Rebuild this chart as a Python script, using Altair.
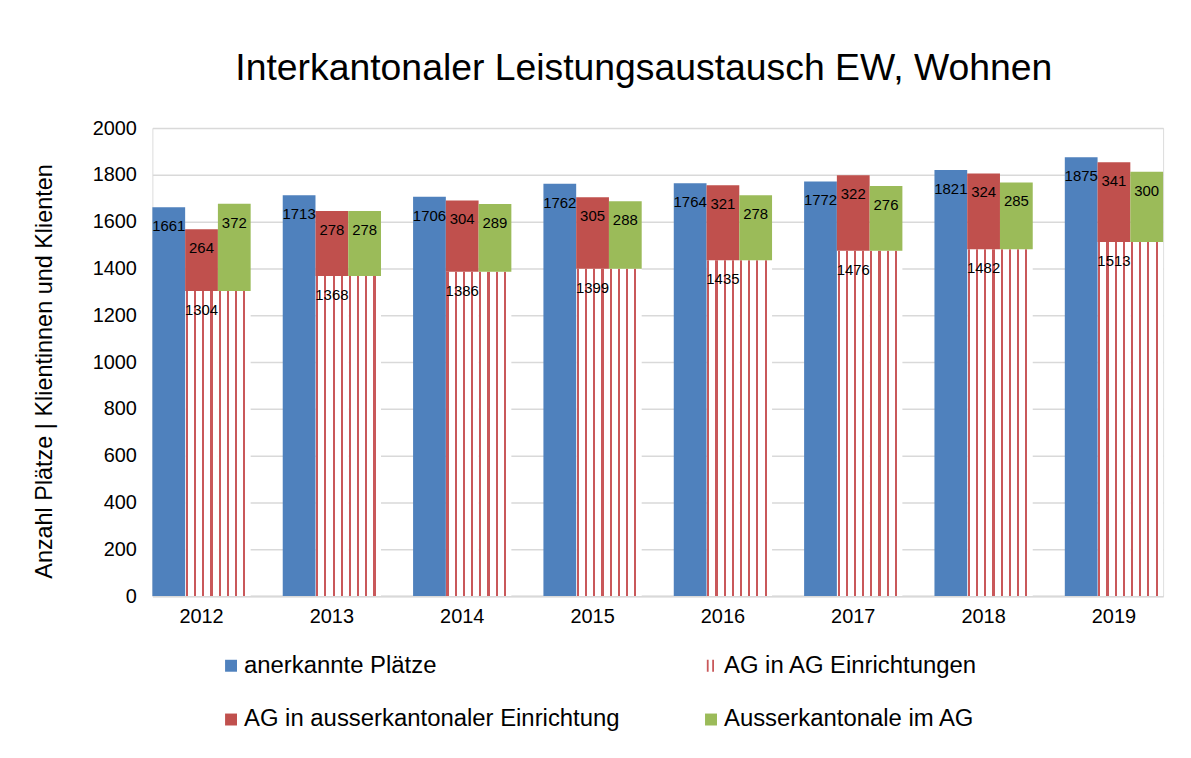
import altair as alt
import pandas as pd

# ---- data ----
years = ["2012", "2013", "2014", "2015", "2016", "2017", "2018", "2019"]
anerkannte_plaetze = [1661, 1713, 1706, 1762, 1764, 1772, 1821, 1875]
ag_in_ag = [1304, 1368, 1386, 1399, 1435, 1476, 1482, 1513]
ag_ausserkantonal = [264, 278, 304, 305, 321, 322, 324, 341]
ausserkantonale_im_ag = [372, 278, 289, 288, 278, 276, 285, 300]
y_ticks = [0, 200, 400, 600, 800, 1000, 1200, 1400, 1600, 1800, 2000]

S_BLUE = "anerkannte Plätze"
S_BASE = "AG in AG Einrichtungen"
S_RED = "AG in ausserkantonaler Einrichtung"
S_GREEN = "Ausserkantonale im AG"
# legend fills column by column
series_order = [S_BLUE, S_RED, S_BASE, S_GREEN]

BLUE = "#4F81BD"
RED = "#C0504D"
GREEN = "#9BBB59"
STRIPE = "#C9585A"
FONT = "Liberation Sans"

solid_rows, base_rows, text_rows = [], [], []
for i, yr in enumerate(years):
    solid_rows.append(dict(year=yr, pos=0, series=S_BLUE, y0=0, y1=anerkannte_plaetze[i], lab=anerkannte_plaetze[i]))
    solid_rows.append(dict(year=yr, pos=1, series=S_RED, y0=ag_in_ag[i],
                           y1=ag_in_ag[i] + ag_ausserkantonal[i], lab=ag_ausserkantonal[i]))
    solid_rows.append(dict(year=yr, pos=2, series=S_GREEN, y0=ag_in_ag[i],
                           y1=ag_in_ag[i] + ausserkantonale_im_ag[i], lab=ausserkantonale_im_ag[i]))
    base_rows.append(dict(year=yr, pos=1, y0=0, y1=ag_in_ag[i], lab=ag_in_ag[i]))
    base_rows.append(dict(year=yr, pos=2, y0=0, y1=ag_in_ag[i], lab=ag_in_ag[i]))
    text_rows.append(dict(year=yr, pos=1, y1=ag_in_ag[i], lab=ag_in_ag[i]))
text_rows = solid_rows + text_rows

solid_df = pd.DataFrame(solid_rows)
base_df = pd.DataFrame(base_rows)
text_df = pd.DataFrame(text_rows)

# striped fill (vertical red lines on white) as a hard-stop gradient
stops = [alt.GradientStop(color="white", offset=0)]
for s in [0.02, 0.27, 0.52, 0.77]:
    w = 0.065
    stops += [alt.GradientStop(color="white", offset=s), alt.GradientStop(color=STRIPE, offset=s),
              alt.GradientStop(color=STRIPE, offset=s + w), alt.GradientStop(color="white", offset=s + w)]
stops.append(alt.GradientStop(color="white", offset=1))
stripe_fill = alt.LinearGradient(gradient="linear", stops=stops, x1=0, x2=1, y1=0, y2=0)

x_enc = alt.X("year:N", sort=years,
              scale=alt.Scale(paddingInner=0.246, paddingOuter=0),
              axis=alt.Axis(title=None, labelAngle=0, labelFontSize=20, labelPadding=11,
                            labelColor="#000000", labelFont=FONT, ticks=False,
                            domainColor="#D9D9D9", domainWidth=2))
xo_enc = alt.XOffset("pos:O", scale=alt.Scale(paddingInner=0, paddingOuter=0))
y_enc = alt.Y("y1:Q", scale=alt.Scale(domain=[0, 2000], nice=False),
              axis=alt.Axis(values=y_ticks, format="d", title="Anzahl Plätze | Klientinnen und Klienten",
                            titleFontSize=23.5, titleFontWeight="normal", titleFont=FONT,
                            titleColor="#000000", titleX=-108, titleY=244, titleBaseline="middle",
                            labelFontSize=20, labelPadding=16, labelColor="#000000", labelFont=FONT,
                            ticks=False, domain=False, gridColor="#D9D9D9", gridWidth=1.5))

base = alt.Chart(base_df).mark_bar(fill=stripe_fill, strokeWidth=0).encode(
    x=x_enc, xOffset=xo_enc, y=y_enc, y2="y0:Q"
)

legend = alt.Legend(
    title=None, orient="none", legendX=67, legendY=528, columns=2, columnPadding=79,
    rowPadding=30, labelFontSize=24, labelFont=FONT, labelColor="#000000", labelLimit=0,
    labelOffset=1, symbolSize=144, symbolStrokeWidth=0, padding=0,
    symbolType=alt.ExprRef(
        "datum.value === 'AG in AG Einrichtungen' ? 'M-0.7,-1H-0.4V1H-0.7Z M0.2,-1H0.5V1H0.2Z' : 'square'"),
)

solid = alt.Chart(solid_df).mark_bar(strokeWidth=0).encode(
    x=x_enc, xOffset=xo_enc, y=y_enc, y2="y0:Q",
    color=alt.Color("series:N", scale=alt.Scale(domain=series_order, range=[BLUE, RED, STRIPE, GREEN]),
                    legend=legend),
)

labels = alt.Chart(text_df).mark_text(baseline="middle", dy=19, fontSize=15, font=FONT, color="#000000").encode(
    x=x_enc, xOffset=xo_enc, y=y_enc, text="lab:Q"
)

chart = alt.layer(base, solid, labels).properties(
    width=1015, height=470,
    title=alt.TitleParams("Interkantonaler Leistungsaustausch EW, Wohnen", fontSize=37.5,
                          fontWeight="normal", font=FONT, color="#000000", anchor="middle",
                          frame="group", dx=-14, offset=1, baseline="alphabetic"),
    autosize=alt.AutoSizeParams(type="none"),
    padding={"left": 145, "top": 119, "right": 20, "bottom": 140},
).configure_view(strokeWidth=0).configure(background="white")

chart.save("out.html", embed_options={"renderer": "svg", "actions": False})
